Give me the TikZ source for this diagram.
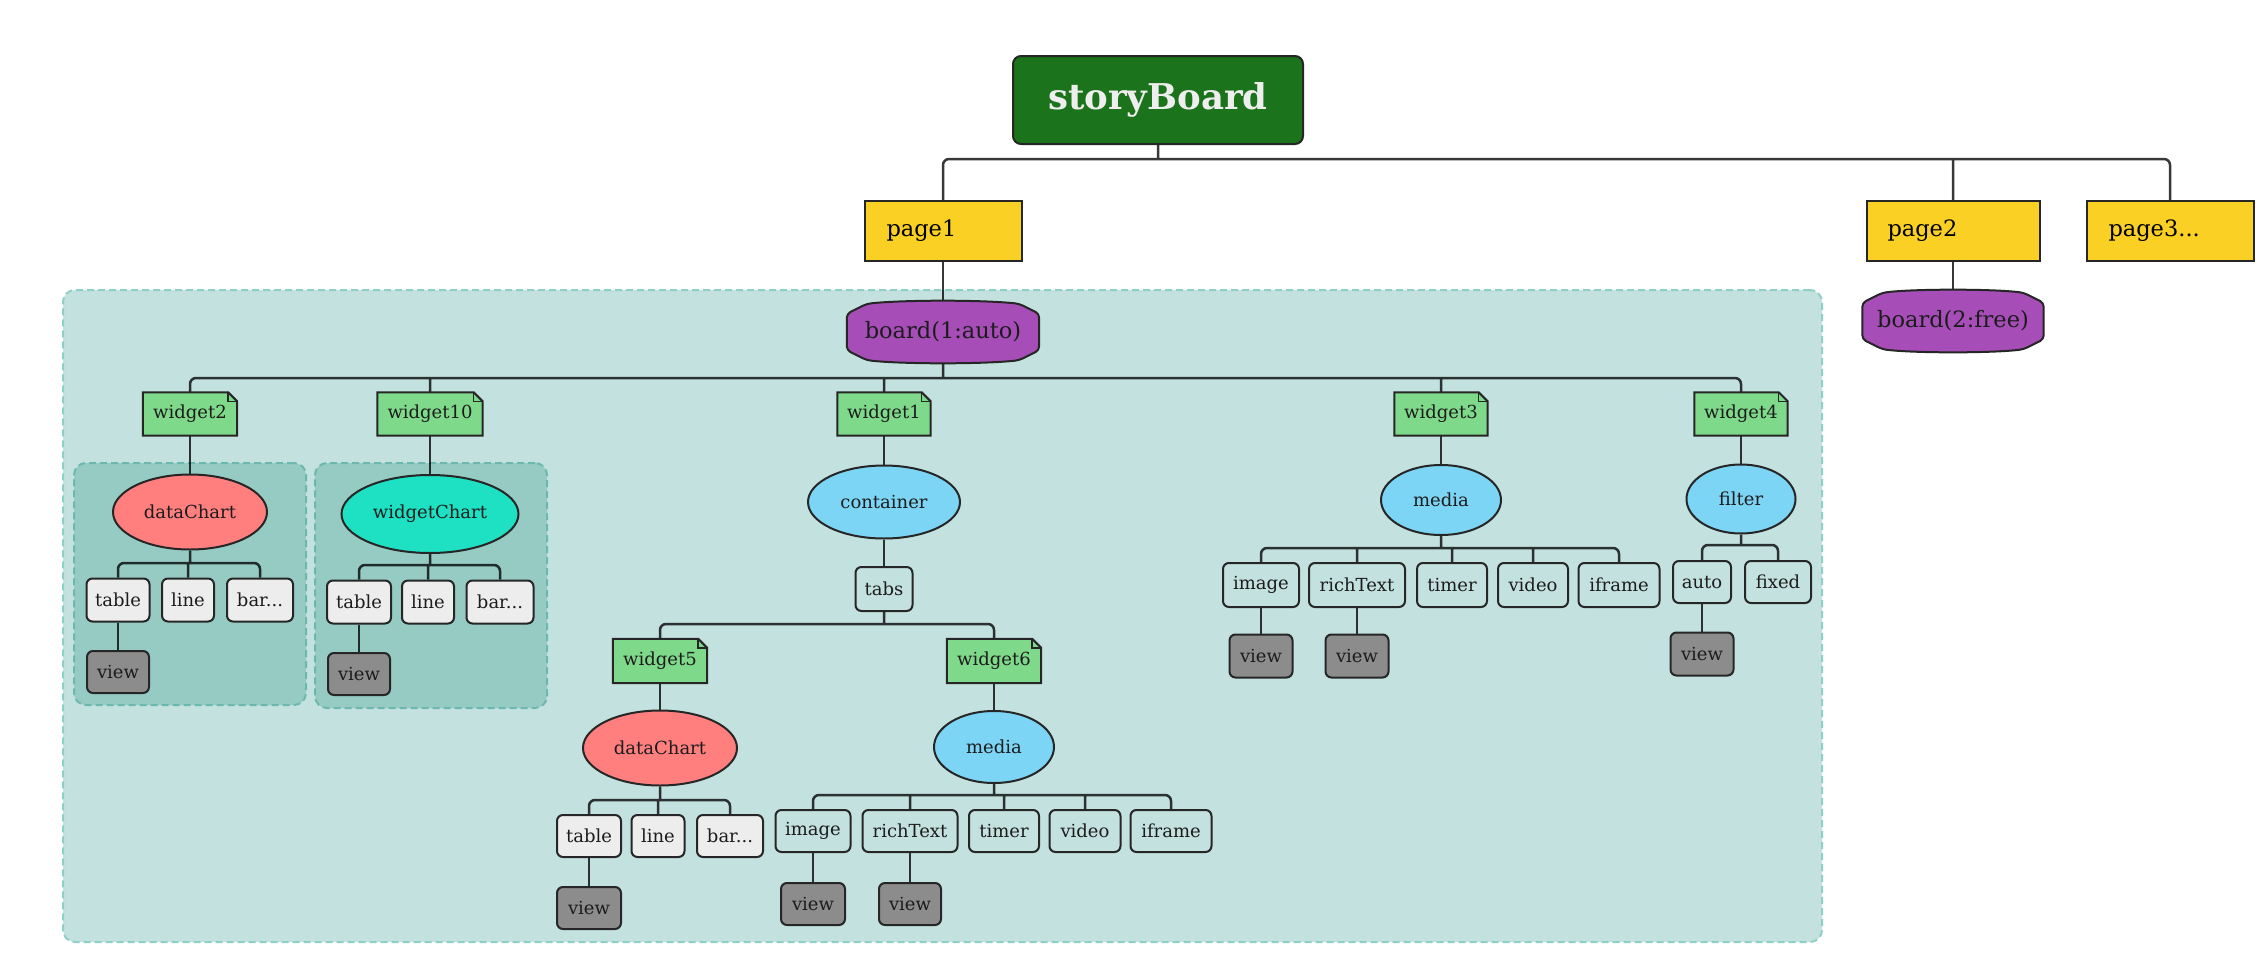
\documentclass[tikz,border=0pt]{standalone}
\usepackage{fontspec}
\setmainfont{DejaVu Serif}
\usetikzlibrary{shapes.geometric,calc}
\pgfdeclarelayer{bg}
\pgfdeclarelayer{edges}
\pgfdeclarelayer{shapes}
\pgfsetlayers{bg,edges,shapes,main}
\definecolor{sbgreen}{HTML}{1B731B}
\definecolor{sbtext}{HTML}{EEEEEE}
\definecolor{pageyellow}{HTML}{F9D023}
\definecolor{boardpurple}{HTML}{A64DB8}
\definecolor{regionfill}{HTML}{C3E2DF}
\definecolor{regionline}{HTML}{8ED0C6}
\definecolor{subfill}{HTML}{96CBC4}
\definecolor{subline}{HTML}{6DB8AE}
\definecolor{widgetgreen}{HTML}{7FD98A}
\definecolor{chartred}{HTML}{FF7F7F}
\definecolor{chartteal}{HTML}{1EE0C2}
\definecolor{ovalblue}{HTML}{7DD5F5}
\definecolor{leafgray}{HTML}{EDEDED}
\definecolor{viewgray}{HTML}{8C8C8C}
\definecolor{bordercol}{HTML}{262626}
\definecolor{txtdark}{HTML}{1C1C1C}
\newcommand\txtS{\fontsize{18}{21}\selectfont}
\newcommand\txtM{\fontsize{22.5}{26}\selectfont}
\newcommand\txtL{\fontsize{35.5}{40}\selectfont\bfseries}
\tikzset{
  base/.style={inner sep=0pt, text=txtdark, font=\txtS},
  rbox/.style={base, rectangle, rounded corners=6pt, draw=bordercol, line width=2pt, minimum height=43pt},
  leaf/.style={rbox, fill=leafgray},
  openbox/.style={rbox},
  viewbox/.style={rbox, fill=viewgray, minimum height=42pt},
  oval/.style={base, ellipse, draw=bordercol, line width=2pt},
  widgetnode/.style={base, minimum height=43pt},
  boardnode/.style={base, font=\txtM, minimum height=62pt},
  pagebox/.style={base, font=\txtM, text=black, rectangle, draw=bordercol, line width=2pt, fill=pageyellow, minimum height=60pt, align=left},
  sbnode/.style={base, font=\txtL, text=sbtext, fill=sbgreen, draw=bordercol, line width=2pt, rounded corners=8pt, minimum width=290pt, minimum height=88pt},
  conn/.style={draw=black, draw opacity=0.78, line width=2.5pt, rounded corners=6pt},
  bigregion/.style={rectangle, fill=regionfill, draw=regionline, line width=2pt, dash pattern=on 7pt off 4pt, rounded corners=12pt, inner sep=0pt},
  subregion/.style={rectangle, fill=subfill, draw=subline, line width=2pt, dash pattern=on 7pt off 4pt, rounded corners=12pt, inner sep=0pt},
}
% parent, branch y, first child, last child, middle children
\newcommand\branch[5]{%
  \draw[conn] (#1.south) -- (#1.south |- 0,#2)
    (#3.north) -- (#3.north |- 0,#2) -- (#4.north |- 0,#2) -- (#4.north)
    \foreach \c in {#5}{ (\c.north |- 0,#2) -- (\c.north) };}
% parent, branch y, first child, last child
\newcommand\branchtwo[4]{%
  \draw[conn] (#1.south) -- (#1.south |- 0,#2)
    (#3.north) -- (#3.north |- 0,#2) -- (#4.north |- 0,#2) -- (#4.north);}
\newcommand\single[2]{\draw[conn] (#1.south) -- (#2.north);}
\newcommand\widgetshape[1]{%
  \draw[draw=bordercol, line width=2pt, fill=widgetgreen, line join=miter] (#1.south west) -- (#1.south east) -- ($(#1.north east)+(0,9)$) -- ($(#1.north east)+(-9,0)$) -- (#1.north west) -- cycle;
  \draw[draw=bordercol, line width=1.5pt] ($(#1.north east)+(-9,0)$) -- ($(#1.north east)+(-9,9)$) -- ($(#1.north east)+(0,9)$);}
\newcommand\boardshape[1]{%
  \draw[draw=bordercol, line width=2pt, fill=boardpurple, rounded corners=4pt]
   ($(#1.north west)+(0,13)$) -- ($(#1.north west)+(20,3)$) .. controls ($(#1.north)+(-40,-1)$) and ($(#1.north)+(40,-1)$) .. ($(#1.north east)+(-20,3)$) -- ($(#1.north east)+(0,13)$) -- ($(#1.south east)+(0,-13)$) -- ($(#1.south east)+(-20,-3)$) .. controls ($(#1.south)+(40,1)$) and ($(#1.south)+(-40,1)$) .. ($(#1.south west)+(20,-3)$) -- ($(#1.south west)+(0,-13)$) -- cycle;}
\begin{document}
\begin{tikzpicture}[x=1pt,y=-1pt]
\useasboundingbox (0,0) rectangle (2262,972);
\begin{pgfonlayer}{bg}
\fill[white] (0,0) rectangle (2262,972);
\node[bigregion, minimum width=1759pt, minimum height=652pt] (reg) at (942.5,616) {};
\node[subregion, minimum width=232pt, minimum height=242pt] (reg1) at (190,584) {};
\node[subregion, minimum width=232pt, minimum height=245pt] (reg2) at (431,585.5) {};
\end{pgfonlayer}

% top level
\node[sbnode] (sb) at (1158,100) {storyBoard};
\node[pagebox, text width=113pt, inner xsep=22pt] (p1) at (943,231) {page1};
\node[pagebox, text width=131pt, inner xsep=21pt] (p2) at (1953,231) {page2};
\node[pagebox, text width=123pt, inner xsep=22pt] (p3) at (2170,231) {page3...};
\node[boardnode, minimum width=192pt] (b1) at (943,332) {board(1:auto)};
\node[boardnode, minimum width=181pt] (b2) at (1953,321) {board(2:free)};

% widgets
\node[widgetnode, minimum width=94pt] (w2) at (190,414) {widget2};
\node[widgetnode, minimum width=105pt] (w10) at (430,414) {widget10};
\node[widgetnode, minimum width=93pt] (w1) at (884,414) {widget1};
\node[widgetnode, minimum width=93pt] (w3) at (1441,414) {widget3};
\node[widgetnode, minimum width=93pt] (w4) at (1741,414) {widget4};

% widget2 subtree
\node[oval, fill=chartred, minimum width=154pt, minimum height=75pt] (dc1) at (190,512) {dataChart};
\node[leaf, minimum width=63pt] (t1) at (118,600) {table};
\node[leaf, minimum width=52pt] (l1) at (188,600) {line};
\node[leaf, minimum width=66pt] (r1) at (260,600) {bar...};
\node[viewbox, minimum width=62pt] (v1) at (118,672) {view};

% widget10 subtree
\node[oval, fill=chartteal, minimum width=177pt, minimum height=78pt] (wc) at (430,514) {widgetChart};
\node[leaf, minimum width=64pt] (t2) at (359,602) {table};
\node[leaf, minimum width=52pt] (l2) at (428,602) {line};
\node[leaf, minimum width=67pt] (r2) at (500,602) {bar...};
\node[viewbox, minimum width=62pt] (v2) at (359,674) {view};

% widget1 subtree
\node[oval, fill=ovalblue, minimum width=152pt, minimum height=73pt] (cont) at (884,502) {container};
\node[openbox, minimum width=57pt, minimum height=44pt] (tabs) at (884,589) {tabs};
\node[widgetnode, minimum width=94pt, minimum height=44pt] (w5) at (660,661) {widget5};
\node[widgetnode, minimum width=94pt, minimum height=44pt] (w6) at (994,661) {widget6};
\node[oval, fill=chartred, minimum width=154pt, minimum height=75pt] (dc2) at (660,748) {dataChart};
\node[leaf, minimum width=64pt, minimum height=42pt] (t3) at (589,836) {table};
\node[leaf, minimum width=53pt, minimum height=42pt] (l3) at (658,836) {line};
\node[leaf, minimum width=66pt, minimum height=42pt] (r3) at (730,836) {bar...};
\node[viewbox, minimum width=64pt] (v3) at (589,908) {view};
\node[oval, fill=ovalblue, minimum width=120pt, minimum height=72pt] (m2) at (994,747) {media};
\node[openbox, minimum width=75pt, minimum height=42pt] (im2) at (813,831) {image};
\node[openbox, minimum width=95pt, minimum height=42pt] (rt2) at (910,831) {richText};
\node[openbox, minimum width=70pt, minimum height=42pt] (ti2) at (1004,831) {timer};
\node[openbox, minimum width=71pt, minimum height=42pt] (vi2) at (1085,831) {video};
\node[openbox, minimum width=81pt, minimum height=42pt] (if2) at (1171,831) {iframe};
\node[viewbox, minimum width=64pt] (vim2) at (813,904) {view};
\node[viewbox, minimum width=62pt] (vrt2) at (910,904) {view};

% widget3 subtree
\node[oval, fill=ovalblue, minimum width=120pt, minimum height=70pt] (m3) at (1441,500) {media};
\node[openbox, minimum width=76pt, minimum height=44pt] (im3) at (1261,585) {image};
\node[openbox, minimum width=96pt, minimum height=44pt] (rt3) at (1357,585) {richText};
\node[openbox, minimum width=70pt, minimum height=44pt] (ti3) at (1452,585) {timer};
\node[openbox, minimum width=70pt, minimum height=44pt] (vi3) at (1533,585) {video};
\node[openbox, minimum width=81pt, minimum height=44pt] (if3) at (1619,585) {iframe};
\node[viewbox, minimum width=63pt, minimum height=43pt] (vim3) at (1261,656) {view};
\node[viewbox, minimum width=63pt, minimum height=43pt] (vrt3) at (1357,656) {view};

% widget4 subtree
\node[oval, fill=ovalblue, minimum width=109pt, minimum height=69pt] (filt) at (1741,499) {filter};
\node[openbox, minimum width=58pt, minimum height=42pt] (au) at (1702,582) {auto};
\node[openbox, minimum width=66pt, minimum height=42pt] (fx) at (1778,582) {fixed};
\node[viewbox, minimum width=63pt, minimum height=43pt] (vau) at (1702,654) {view};

% custom outlines
\begin{pgfonlayer}{shapes}
\boardshape{b1}
\boardshape{b2}
\foreach \w in {w2,w10,w1,w3,w4,w5,w6}{\widgetshape{\w}}
\end{pgfonlayer}

% connectors
\begin{pgfonlayer}{edges}
\branch{sb}{159}{p1}{p3}{p2}
\single{p1}{b1}
\single{p2}{b2}
\branch{b1}{378}{w2}{w4}{w10,w1,w3}
\single{w2}{dc1}
\single{w10}{wc}
\single{w1}{cont}
\single{w3}{m3}
\single{w4}{filt}
\branch{dc1}{563}{t1}{r1}{l1}
\single{t1}{v1}
\branch{wc}{565}{t2}{r2}{l2}
\single{t2}{v2}
\single{cont}{tabs}
\branchtwo{tabs}{624}{w5}{w6}
\single{w5}{dc2}
\single{w6}{m2}
\branch{dc2}{800}{t3}{r3}{l3}
\single{t3}{v3}
\branch{m2}{795}{im2}{if2}{rt2,ti2,vi2}
\single{im2}{vim2}
\single{rt2}{vrt2}
\branch{m3}{548}{im3}{if3}{rt3,ti3,vi3}
\single{im3}{vim3}
\single{rt3}{vrt3}
\branchtwo{filt}{545}{au}{fx}
\single{au}{vau}
\end{pgfonlayer}
\end{tikzpicture}
\end{document}
